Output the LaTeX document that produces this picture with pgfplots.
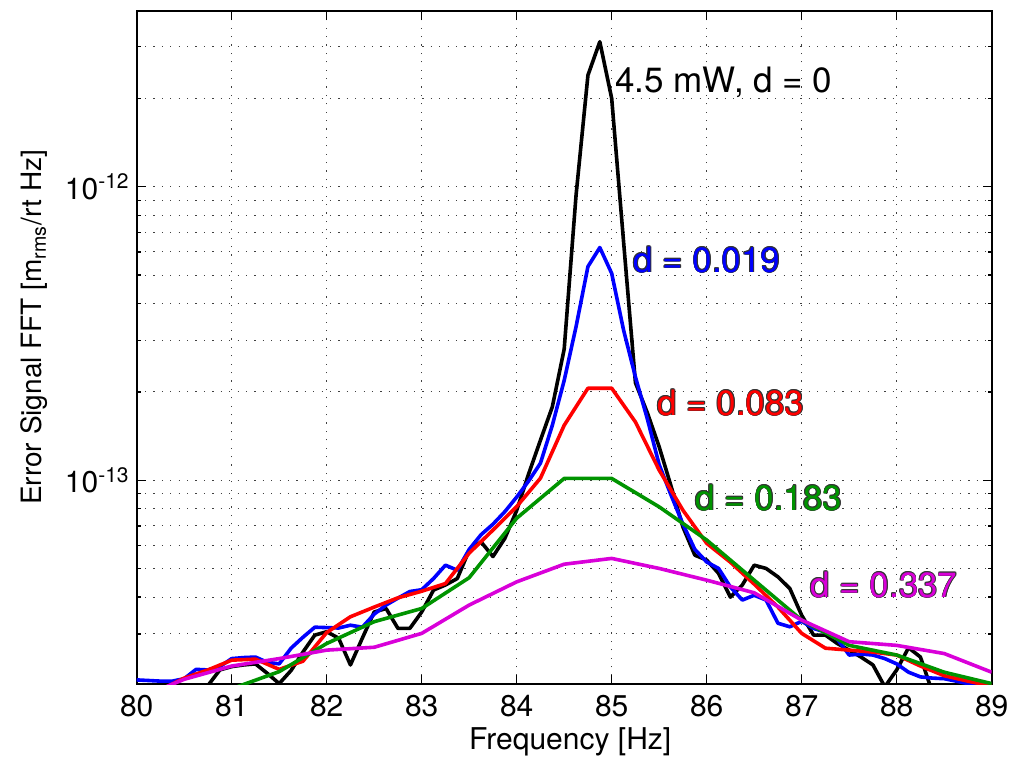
\documentclass[border=0pt]{standalone}
\usepackage{fontspec}
\setmainfont{TeX Gyre Heros}
\usepackage{pgfplots}
\pgfplotsset{compat=1.18}
\definecolor{mgreen}{rgb}{0,0.58,0}
\definecolor{mmag}{rgb}{0.85,0,0.85}
% outlined label: dark copies at small offsets, coloured text on top
\newcommand{\outl}[4]{%
  \node[black!80, xshift=0.35pt] at (axis cs:#2,#3) {#4};%
  \node[black!80, xshift=-0.35pt] at (axis cs:#2,#3) {#4};%
  \node[black!80, yshift=0.35pt] at (axis cs:#2,#3) {#4};%
  \node[black!80, yshift=-0.35pt] at (axis cs:#2,#3) {#4};%
  \node[black!80, xshift=0.25pt, yshift=0.25pt] at (axis cs:#2,#3) {#4};%
  \node[black!80, xshift=-0.25pt, yshift=0.25pt] at (axis cs:#2,#3) {#4};%
  \node[black!80, xshift=0.25pt, yshift=-0.25pt] at (axis cs:#2,#3) {#4};%
  \node[black!80, xshift=-0.25pt, yshift=-0.25pt] at (axis cs:#2,#3) {#4};%
  \node[#1] at (axis cs:#2,#3) {#4};}
\begin{document}
\begin{tikzpicture}
\path[use as bounding box] (-68.35pt,-38pt) rectangle (437.15pt,342pt);
\begin{axis}[
  at={(0,0)}, anchor=south west,
  scale only axis, width=427.5pt, height=336.5pt,
  xmin=80, xmax=89, ymin=2.023e-14, ymax=3.97e-12,
  ymode=log,
  xtick={80,81,82,83,84,85,86,87,88,89},
  ytick={1e-13,1e-12},
  yticklabels={10\textsuperscript{-13},10\textsuperscript{-12}},
  minor ytick={3e-14,4e-14,5e-14,6e-14,7e-14,8e-14,9e-14,2e-13,3e-13,4e-13,5e-13,6e-13,7e-13,8e-13,9e-13,2e-12,3e-12},
  /pgf/number format/assume math mode=true,
  grid=both,
  major grid style={black!75, line width=0.5pt, dash pattern=on 0.6pt off 3.6pt},
  minor grid style={black!75, line width=0.5pt, dash pattern=on 0.6pt off 3.6pt},
  tick align=inside,
  major tick length=4.5pt, minor tick length=2pt,
  tick style={black, line width=0.7pt},
  axis line style={black, line width=1pt},
  tick label style={font=\fontsize{15}{18}\selectfont},
  xticklabel style={yshift=-2pt},
  xlabel={Frequency [Hz]},
  ylabel={Error Signal FFT [m\textsubscript{rms}/rt Hz]},
  every axis x label/.style={at={(axis description cs:0.507,-0.086)}, anchor=center, font=\fontsize{15}{18}\selectfont},
  every axis y label/.style={at={(axis description cs:-0.120,0.530)}, anchor=center, rotate=90, font=\fontsize{14}{17}\selectfont},
  every axis plot/.append style={line width=1.8pt, line join=round, no markers},
]
% black: 4.5 mW, d = 0
\addplot[black] coordinates {
(80.000,1.70e-14) (80.125,1.75e-14) (80.250,1.80e-14) (80.375,1.90e-14) (80.500,1.98e-14)
(80.625,1.85e-14) (80.750,2.00e-14) (80.875,2.26e-14) (81.000,2.32e-14) (81.125,2.35e-14)
(81.250,2.37e-14) (81.375,2.20e-14) (81.500,2.03e-14) (81.625,2.25e-14) (81.750,2.60e-14)
(81.875,2.97e-14) (82.000,3.05e-14) (82.125,2.90e-14) (82.250,2.35e-14) (82.375,2.90e-14)
(82.500,3.56e-14) (82.625,3.66e-14) (82.750,3.13e-14) (82.875,3.13e-14) (83.000,3.56e-14)
(83.125,4.23e-14) (83.250,4.40e-14) (83.375,4.63e-14) (83.500,5.78e-14) (83.625,6.17e-14)
(83.750,5.50e-14) (83.875,6.34e-14) (84.000,7.90e-14) (84.125,1.05e-13) (84.250,1.37e-13)
(84.375,1.78e-13) (84.500,2.80e-13) (84.625,9.37e-13) (84.750,2.40e-12) (84.875,3.12e-12)
(85.000,2.00e-12) (85.125,6.50e-13) (85.250,2.15e-13) (85.375,1.70e-13) (85.500,1.30e-13)
(85.625,9.55e-14) (85.750,6.93e-14) (85.875,5.56e-14) (86.000,5.35e-14) (86.125,4.82e-14)
(86.250,4.00e-14) (86.375,4.40e-14) (86.500,5.14e-14) (86.625,5.01e-14) (86.750,4.69e-14)
(86.875,4.28e-14) (87.000,3.47e-14) (87.125,2.97e-14) (87.250,2.97e-14) (87.375,2.78e-14)
(87.500,2.64e-14) (87.625,2.50e-14) (87.750,2.35e-14) (87.875,1.98e-14) (88.000,2.26e-14)
(88.125,2.69e-14) (88.250,2.50e-14) (88.375,1.90e-14) (88.500,1.85e-14) (88.625,1.90e-14)
(88.750,1.88e-14) (88.875,1.92e-14) (89.000,1.90e-14)
};
% blue: d = 0.019
\addplot[blue] coordinates {
(80.000,2.09e-14) (80.125,2.08e-14) (80.250,2.07e-14) (80.375,2.07e-14) (80.500,2.11e-14)
(80.625,2.27e-14) (80.750,2.26e-14) (80.875,2.32e-14) (81.000,2.47e-14) (81.125,2.49e-14)
(81.250,2.50e-14) (81.375,2.40e-14) (81.500,2.37e-14) (81.625,2.68e-14) (81.750,2.92e-14)
(81.875,3.16e-14) (82.000,3.15e-14) (82.125,3.14e-14) (82.250,3.21e-14) (82.375,3.16e-14)
(82.500,3.50e-14) (82.625,3.76e-14) (82.750,3.97e-14) (82.875,4.18e-14) (83.000,4.24e-14)
(83.125,4.63e-14) (83.250,5.14e-14) (83.375,4.94e-14) (83.500,5.82e-14) (83.625,6.53e-14)
(83.750,7.09e-14) (83.875,7.82e-14) (84.000,8.77e-14) (84.125,9.94e-14) (84.250,1.144e-13)
(84.375,1.54e-13) (84.500,2.19e-13) (84.625,3.34e-13) (84.750,5.35e-13) (84.875,6.21e-13)
(85.000,5.07e-13) (85.125,3.25e-13) (85.250,2.25e-13) (85.375,1.62e-13) (85.500,1.13e-13)
(85.625,8.90e-14) (85.750,7.09e-14) (85.875,5.82e-14) (86.000,5.27e-14) (86.125,5.01e-14)
(86.250,4.33e-14) (86.375,3.91e-14) (86.500,4.06e-14) (86.625,3.91e-14) (86.750,3.26e-14)
(86.875,3.17e-14) (87.000,3.31e-14) (87.125,3.13e-14) (87.250,3.04e-14) (87.375,2.88e-14)
(87.500,2.54e-14) (87.625,2.56e-14) (87.750,2.54e-14) (87.875,2.47e-14) (88.000,2.37e-14)
(88.125,2.22e-14) (88.250,2.14e-14) (88.375,2.12e-14) (88.500,2.11e-14) (88.625,2.07e-14)
(88.750,2.03e-14) (88.875,2.00e-14) (89.000,1.97e-14)
};
% red: d = 0.083
\addplot[red] coordinates {
(80.000,1.80e-14) (80.250,1.93e-14) (80.500,2.12e-14) (80.750,2.26e-14) (81.000,2.44e-14)
(81.250,2.46e-14) (81.500,2.27e-14) (81.750,2.42e-14) (82.000,3.03e-14) (82.250,3.43e-14)
(82.500,3.70e-14) (82.750,3.98e-14) (83.000,4.19e-14) (83.250,4.45e-14) (83.500,5.65e-14)
(83.750,6.77e-14) (84.000,8.14e-14) (84.250,1.017e-13) (84.500,1.54e-13) (84.750,2.06e-13)
(85.000,2.06e-13) (85.250,1.58e-13) (85.500,1.083e-13) (85.750,7.91e-14) (86.000,6.10e-14)
(86.250,5.26e-14) (86.500,4.43e-14) (86.750,3.70e-14) (87.000,3.01e-14) (87.250,2.68e-14)
(87.500,2.64e-14) (87.750,2.60e-14) (88.000,2.54e-14) (88.250,2.33e-14) (88.500,2.16e-14)
(88.750,2.07e-14) (89.000,1.99e-14)
};
% green: d = 0.183
\addplot[mgreen] coordinates {
(80.500,1.60e-14) (81.000,1.95e-14) (81.500,2.23e-14) (82.000,2.78e-14) (82.500,3.30e-14)
(83.000,3.66e-14) (83.500,4.66e-14) (84.000,7.43e-14) (84.500,1.015e-13) (85.000,1.015e-13)
(85.500,8.12e-14) (86.000,6.26e-14) (86.500,4.57e-14) (87.000,3.34e-14) (87.500,2.74e-14)
(88.000,2.54e-14) (88.500,2.22e-14) (89.000,2.03e-14)
};
% magenta: d = 0.337
\addplot[mmag] coordinates {
(80.000,1.80e-14) (80.500,2.10e-14) (81.000,2.33e-14) (81.500,2.47e-14) (82.000,2.64e-14)
(82.500,2.70e-14) (83.000,3.01e-14) (83.500,3.76e-14) (84.000,4.51e-14) (84.500,5.18e-14)
(85.000,5.42e-14) (85.500,5.01e-14) (86.000,4.57e-14) (86.500,4.14e-14) (87.000,3.34e-14)
(87.500,2.82e-14) (88.000,2.74e-14) (88.500,2.57e-14) (89.000,2.22e-14)
};
\begin{scope}[every node/.style={inner sep=0pt, anchor=base west, font=\fontsize{17.5}{20}\selectfont}]
\node[black] at (axis cs:85.035,2.09e-12) {4.5 mW, d = 0};
\outl{blue}{85.224}{5.12e-13}{d = 0.019}
\outl{red}{85.476}{1.668e-13}{d = 0.083}
\outl{mgreen}{85.877}{7.91e-14}{d = 0.183}
\outl{mmag}{87.088}{4.0e-14}{d = 0.337}
\end{scope}
\end{axis}
\end{tikzpicture}
\end{document}
